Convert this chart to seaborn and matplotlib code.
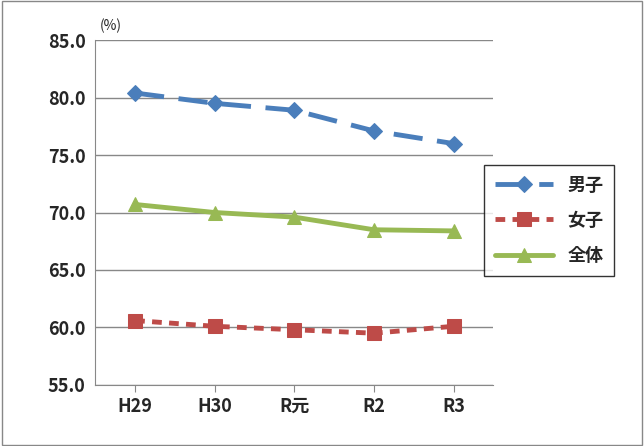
import matplotlib
matplotlib.use("Agg")
import matplotlib.pyplot as plt
import seaborn as sns
import pandas as pd

years = ["H29", "H30", "R元", "R2", "R3"]
boys = [80.4, 79.5, 78.9, 77.1, 76.0]
girls = [60.6, 60.1, 59.8, 59.5, 60.1]
total = [70.7, 70.0, 69.6, 68.5, 68.4]

sns.set_style("white")
plt.rcParams['font.family'] = ['Noto Sans CJK JP', 'DejaVu Sans']

df = pd.DataFrame({"year": years, "男子": boys, "女子": girls, "全体": total})
long = df.melt("year", var_name="group", value_name="rate")

fig = plt.figure(figsize=(6.44, 4.46), dpi=100)
ax = fig.add_axes([0.148, 0.137, 0.618, 0.773])
palette = {"男子": "#4a7ebb", "女子": "#be4b48", "全体": "#98b954"}
styles = {"男子": ((6, 3), "D", 8), "女子": ((2, 1.5), "s", 10), "全体": ("", "^", 10)}
for g in ["男子", "女子", "全体"]:
    d = long[long.group == g]
    dash, mk, ms = styles[g]
    sns.lineplot(data=d, x="year", y="rate", ax=ax, color=palette[g], lw=3.5,
                 marker=mk, markersize=ms, markeredgecolor=palette[g], label=g,
                 dashes=False, sort=False)
    if dash:
        ax.lines[-1].set_dashes(dash)

ax.set_ylim(55, 85)
ax.set_xlim(-0.5, 4.5)
ax.set_yticks(range(55, 86, 5))
ax.set_yticklabels([f"{v:.1f}" for v in range(55, 86, 5)], fontsize=13, fontweight="bold")
ax.set_xticks(range(5))
ax.set_xticklabels(years, fontsize=13, fontweight="bold")
ax.grid(axis="y", color="#888888", lw=1)
for s in ["top", "right"]:
    ax.spines[s].set_visible(False)
ax.spines["left"].set_color("#888888")
ax.spines["bottom"].set_color("#888888")
ax.tick_params(axis="x", length=5, color="#888888", direction="out", bottom=True)
ax.set_xlabel("")
ax.set_ylabel("")
ax.text(0.01, 1.02, "(%)", transform=ax.transAxes, fontsize=10, va="bottom")
leg = ax.legend(loc="upper left", bbox_to_anchor=(0.955, 0.665), fontsize=13,
                frameon=True, fancybox=False, edgecolor="black", handlelength=3.2,
                borderpad=0.6, labelspacing=0.9)
for t in leg.get_texts():
    t.set_fontweight("bold")
fig.patches.append(plt.Rectangle((0.003, 0.003), 0.994, 0.994, transform=fig.transFigure,
                                 fill=False, edgecolor="#888888", lw=1))
fig.savefig("out.png", dpi=100)
